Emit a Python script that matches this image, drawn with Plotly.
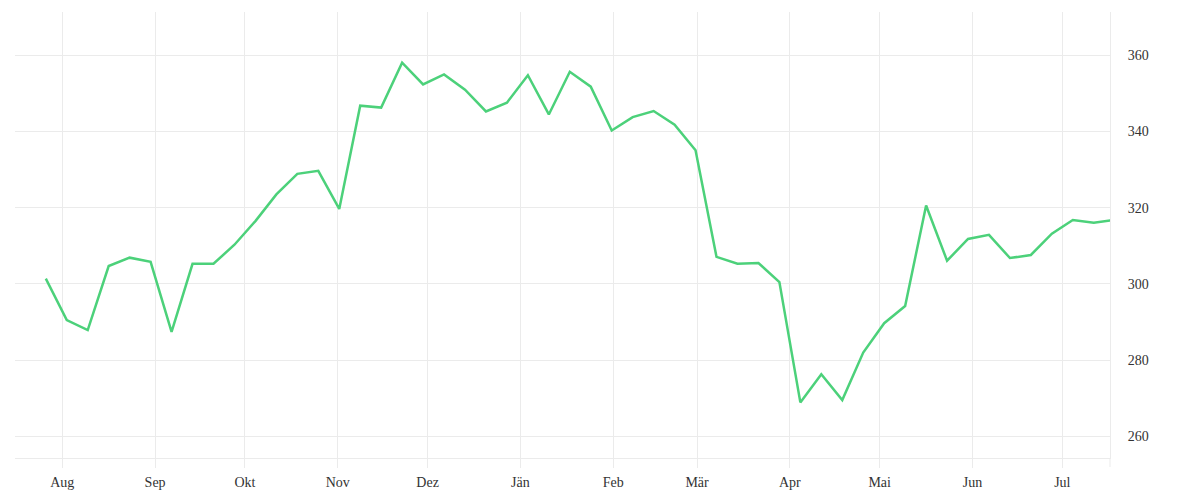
import pandas as pd
import plotly.graph_objects as go

# weekly values, first week ends late July
start_date = "2022-07-26 12:00"
values = [301.4, 290.5, 287.9, 304.7, 306.9, 305.8, 287.4, 305.3, 305.3, 310.3,
          316.5, 323.5, 328.9, 329.7, 319.7, 346.8, 346.3, 358.1, 352.4, 355.0,
          351.0, 345.3, 347.6, 354.8, 344.5, 355.7, 351.8, 340.3, 343.8, 345.4,
          341.8, 335.1, 307.1, 305.3, 305.5, 300.5, 268.9, 276.3, 269.5, 282.0,
          289.7, 294.2, 320.6, 306.1, 311.8, 312.9, 306.8, 307.6, 313.2, 316.8,
          316.1, 316.8]
dates = pd.date_range(start_date, periods=len(values), freq="7D")

tick_dates = pd.date_range("2022-08-01", periods=12, freq="MS")
tick_labels = ["Aug", "Sep", "Okt", "Nov", "Dez", "Jän", "Feb", "Mär", "Apr", "Mai", "Jun", "Jul"]
y_ticks = [260, 280, 300, 320, 340, 360]

grid = "#ebebeb"
font_col = "#333333"

fig = go.Figure()
fig.add_trace(go.Scatter(x=dates, y=values, mode="lines",
                         line=dict(color="#4cd17a", width=2.5),
                         hoverinfo="x+y", showlegend=False))

# page body adds 8px, margins account for it
fig.update_layout(
    width=1200, height=500,
    margin=dict(l=7, r=98, t=4, b=50),
    paper_bgcolor="white", plot_bgcolor="white",
    font=dict(family="Liberation Serif, DejaVu Serif, serif", size=14, color=font_col),
    xaxis=dict(range=["2022-07-16 05:00", "2023-07-16 22:00"],
               tickvals=tick_dates, ticktext=tick_labels,
               showgrid=True, gridcolor=grid, gridwidth=1,
               ticks="outside", ticklen=9, tickcolor=grid, tickwidth=1,
               ticklabelstandoff=2,
               showline=True, linecolor=grid, linewidth=1,
               zeroline=False),
    yaxis=dict(range=[254.3, 371.4], side="right",
               tickvals=y_ticks,
               showgrid=True, gridcolor=grid, gridwidth=1,
               ticks="outside", ticklen=14, tickcolor="rgba(0,0,0,0)",
               showline=True, linecolor=grid, linewidth=1,
               zeroline=False),
)
# right border runs down a little below the axis, like the month ticks
fig.add_shape(type="line", xref="paper", yref="paper", x0=1, x1=1, y0=-0.0202, y1=0,
              line=dict(color=grid, width=1))

fig.write_html("out.html")
